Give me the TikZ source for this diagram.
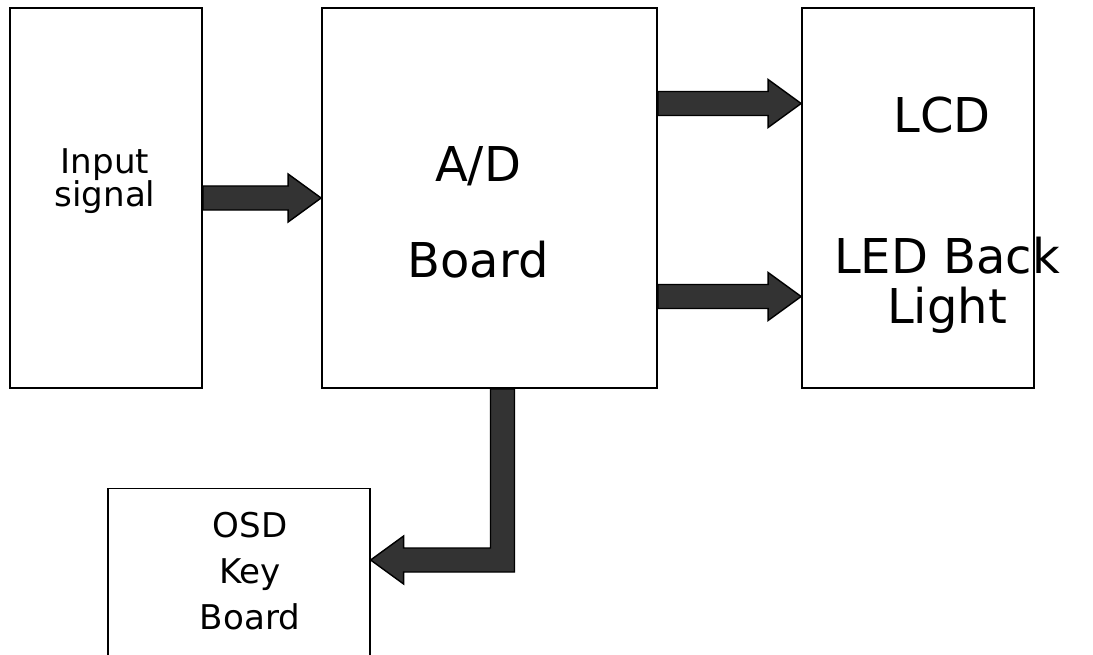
\documentclass[tikz,border=0pt]{standalone}
\usepackage{fontspec}
\setmainfont{DejaVu Sans}
\usepackage{tikz}
\usetikzlibrary{positioning,calc}
\definecolor{ArrowGray}{RGB}{51,51,51}
\tikzset{
	block/.style={rectangle,draw,line width=1pt,inner sep=0pt,minimum height=7.6cm},
	bigtxt/.style={inner sep=0pt,align=center,font=\fontsize{27.3pt}{54.6pt}\selectfont},
	smalltxt/.style={inner sep=0pt,align=center,font=\fontsize{19.4pt}{18.8pt}\selectfont},
	blockarrow/.style={draw=black,fill=ArrowGray,line width=0.8pt,line join=miter}
}
% shaft half width, head half width, head length
\def\sw{0.24}
\def\hw{0.48}
\def\hl{0.66}
% right pointing block arrow from #1 to the tip #2
\newcommand{\rarrow}[2]{%
	\draw[blockarrow] ($(#1)+(0,\sw)$) -- ($(#2)+(-\hl,\sw)$) -- ($(#2)+(-\hl,\hw)$) -- (#2)
		-- ($(#2)+(-\hl,-\hw)$) -- ($(#2)+(-\hl,-\sw)$) -- ($(#1)+(0,-\sw)$) -- cycle;}
\begin{document}
\begin{tikzpicture}
	\useasboundingbox (0,0) rectangle (21.86,-13.08);
	% boxes
	\node [block,minimum width=3.84cm,name=input] at (2.12,-3.96) {};
	\node [block,minimum width=6.7cm,name=ad] at (9.79,-3.96) {};
	\node [block,minimum width=4.64cm,name=lcd] at (18.36,-3.96) {};
	\node [block,line width=0.7pt,minimum width=5.24cm,minimum height=3.6cm,anchor=north,name=osd] at (4.78,-9.76) {};
	% texts
	\node [smalltxt,name=inputtxt] at (2.1,-3.62) {Input\\signal};
	\node [bigtxt,name=adtxt] at (9.56,-4.25) {A/D\\Board};
	\node [bigtxt,name=lcdtxt] at (18.84,-2.31) {LCD};
	\node [bigtxt,font=\fontsize{27.3pt}{28.4pt}\selectfont,name=ledtxt] at (18.94,-5.7) {LED Back\\Light};
	\node [font=\fontsize{19.4pt}{26.4pt}\selectfont,inner sep=0pt,align=center,name=osdtxt] at (5.0,-11.42) {OSD\\Key\\Board};
	% arrows
	\rarrow{input.east}{ad.west}
	\coordinate (a2s) at ($(ad.east)+(0,1.89)$);
	\coordinate (a2e) at (lcd.west |- a2s);
	\rarrow{a2s}{a2e}
	\coordinate (a3s) at ($(ad.east)+(0,-1.97)$);
	\coordinate (a3e) at (lcd.west |- a3s);
	\rarrow{a3s}{a3e}
	\coordinate (ls) at ($(ad.south)+(0.26,0)$);
	\coordinate (lt) at ($(osd.north east)+(0,-1.44)$);
	\coordinate (lc) at (ls |- lt);
	\draw[blockarrow] ($(ls)+(-\sw,0)$) -- ($(lc)+(-\sw,\sw)$) -- ($(lt)+(\hl,\sw)$) -- ($(lt)+(\hl,\hw)$)
		-- (lt) -- ($(lt)+(\hl,-\hw)$) -- ($(lt)+(\hl,-\sw)$) -- ($(lc)+(\sw,-\sw)$) -- ($(ls)+(\sw,0)$) -- cycle;
\end{tikzpicture}
\end{document}
